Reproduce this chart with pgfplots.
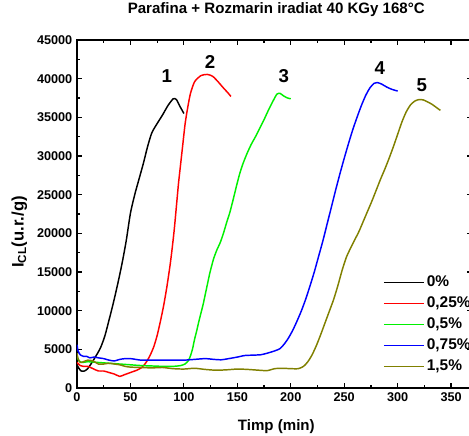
\documentclass[border=0pt]{standalone}
\usepackage{fontspec}
\setmainfont{Liberation Sans}
\usepackage{pgfplots}
\pgfplotsset{compat=1.18}

\definecolor{cZero}{RGB}{0,0,0}
\definecolor{cQuarter}{RGB}{255,0,0}
\definecolor{cHalf}{RGB}{0,240,0}
\definecolor{cThreeQ}{RGB}{0,0,255}
\definecolor{cOnePfive}{RGB}{128,128,0}

\begin{document}
\begin{tikzpicture}
\begin{axis}[
  anchor=south west, at={(0,0)},
  scale only axis,
  width=296.6pt, height=261pt,
  xmin=0, xmax=370, ymin=0, ymax=45000,
  xtick={0,50,...,350}, ytick={0,5000,...,45000},
  minor x tick num=1, minor y tick num=1,
  tick align=inside,
  major tick length=3.75pt, minor tick length=2.25pt,
  every tick/.style={black, line width=0.9pt},
  axis line style={line width=1.1pt},
  scaled y ticks=false,
  /pgf/number format/set thousands separator={},
  /pgf/number format/assume math mode=true,
  ticklabel style={font=\bfseries\fontsize{9.5}{11}\selectfont},
  title={Parafina + Rozmarin iradiat 40 KGy 168°C},
  title style={font=\bfseries\fontsize{11.3}{13}\selectfont, at={(axis description cs:0.504,1.063)}, anchor=center},
  xlabel={Timp (min)},
  xlabel style={font=\bfseries\fontsize{11.3}{13}\selectfont, at={(axis description cs:0.504,-0.112)}, anchor=center},
  ylabel={I\textsubscript{CL}(u.r./g)},
  ylabel style={font=\bfseries\fontsize{12.5}{14}\selectfont, at={(axis description cs:-0.146,0.448)}, anchor=center},
  legend style={at={(rel axis cs:0.763,0.028)}, anchor=south west, draw=none, fill=none,
    font=\bfseries\fontsize{11.6}{13}\selectfont,
    nodes={inner sep=1.5pt, text depth=1.8pt, text height=8.4pt}, row sep=2.55pt},
  legend cell align=left,
  legend image post style={xscale=1.76, line width=1.3pt},
  every axis plot/.append style={line width=1.1pt},
]
% 0 %
\addplot[cZero, smooth, tension=0.4] coordinates {
(0,3000)(2,2500)(4,2200)(7,2200)(10,2500)(14,3300)(18,4200)(22,5200)(26,6700)
(30,8800)(34,11000)(38,13400)(42,16000)(46,19000)(50,22600)(54,25000)(58,27000)
(62,29000)(66,31200)(70,33000)(75,34200)(80,35300)(85,36500)(90,37400)(93,37300)
(96,36500)(100,35500)};
\addlegendentry{0\%}
% 0,25 %
\addplot[cQuarter, smooth, tension=0.4] coordinates {
(0,3300)(3,2900)(6,2800)(10,2800)(15,2500)(20,2200)(25,2200)(30,2000)(35,1800)
(40,1500)(44,1700)(48,1900)(52,2100)(56,2300)(60,2600)(63,3000)(66,3600)(69,4400)
(72,5400)(75,6800)(78,8600)(81,10600)(84,13000)(87,15800)(89,18000)(91,20500)
(93,23500)(95,26500)(97,29000)(99,31500)(101,34000)(103,35800)(106,38000)
(110,39600)(116,40400)(122,40550)(127,40300)(132,39600)(137,38800)(141,38200)(144,37700)};
\addlegendentry{0,25\%}
% 0,5 %
\addplot[cHalf, smooth, tension=0.4] coordinates {
(0,4000)(2,3500)(5,3300)(10,3400)(20,3300)(30,3200)(40,3100)(50,3000)(60,2900)
(70,2850)(80,2800)(90,2800)(97,2900)(101,3100)(104,3500)(106,4100)(108,5000)
(110,6300)(112,7400)(114,8600)(116,9700)(118,10800)(120,12100)(122,13400)
(124,14700)(126,15800)(128,16800)(131,17900)(134,18800)(137,20000)(140,21400)
(143,22700)(146,24300)(149,26000)(152,27600)(155,28900)(159,30300)(163,31500)
(167,32500)(171,33600)(175,34700)(179,35900)(183,37000)(187,38000)(190,38100)
(193,37800)(197,37500)(200,37400)};
\addlegendentry{0,5\%}
% 0,75 %
\addplot[cThreeQ, smooth, tension=0.4] coordinates {
(0,5600)(1,4800)(3,4300)(6,4100)(9,4100)(12,3900)(16,4000)(20,3900)(25,3800)
(30,3600)(35,3500)(40,3700)(45,3800)(50,3800)(55,3700)(60,3600)(70,3600)(80,3600)
(90,3600)(100,3600)(110,3700)(120,3800)(128,3700)(135,3650)(142,3800)(150,4000)
(157,4200)(165,4250)(172,4300)(178,4500)(185,4800)(190,5100)(194,5700)(198,6500)
(202,7500)(206,8700)(210,10000)(214,11500)(218,13200)(222,15000)(226,17000)
(230,19000)(234,21200)(238,23400)(242,25600)(246,27700)(250,29700)(254,31600)
(258,33400)(262,35000)(266,36500)(270,37800)(274,38800)(278,39400)(281,39500)
(285,39300)(290,38900)(295,38600)(300,38400)};
\addlegendentry{0,75\%}
% 1,5 %
\addplot[cOnePfive, smooth, tension=0.4] coordinates {
(0,4500)(1,3800)(3,3300)(6,3400)(10,3600)(15,3500)(20,3100)(25,3100)(30,3200)
(35,3100)(40,3000)(45,2800)(50,2700)(60,2650)(70,2600)(80,2650)(90,2500)(100,2450)
(110,2550)(120,2400)(130,2300)(140,2350)(150,2450)(160,2400)(170,2300)(178,2250)
(185,2500)(192,2550)(200,2500)(207,2500)(212,2800)(216,3400)(220,4300)(224,5500)
(228,6900)(232,8400)(236,9900)(240,11400)(244,13200)(248,15200)(252,16900)
(256,18100)(260,19200)(264,20300)(268,21600)(272,22900)(276,24200)(280,25600)
(284,27000)(288,28300)(292,29700)(296,31200)(300,32800)(304,34400)(308,35700)
(312,36600)(316,37100)(320,37300)(324,37250)(328,37000)(332,36700)(336,36300)(340,35900)};
\addlegendentry{1,5\%}
% curve numbers
\begin{scope}[every node/.style={font=\bfseries\fontsize{14}{16}\selectfont}]
\node at (axis cs:84,40300) {1};
\node at (axis cs:124.4,42150) {2};
\node at (axis cs:193.6,40300) {3};
\node at (axis cs:283.4,41400) {4};
\node at (axis cs:322.7,39200) {5};
\end{scope}
\end{axis}
\pgfresetboundingbox
\useasboundingbox (-57.75pt,-36pt) rectangle (294pt,291pt);
\end{tikzpicture}
\end{document}
